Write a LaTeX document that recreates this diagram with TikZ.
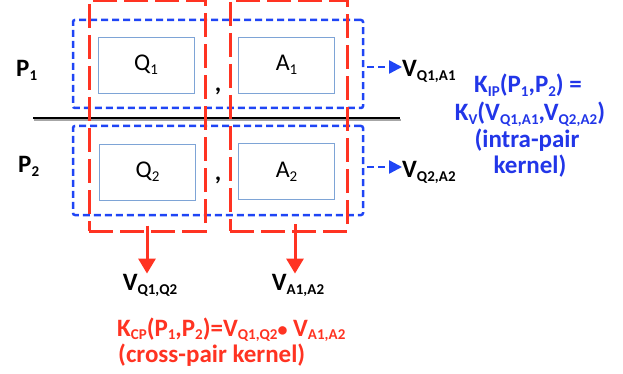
\documentclass[tikz,border=0pt]{standalone}
\usepackage{fontspec}
\setmainfont{Carlito}
\usetikzlibrary{arrows.meta}
\definecolor{redc}{HTML}{FF3322}
\definecolor{bluec}{HTML}{1F45F5}
\definecolor{bluetxt}{HTML}{2236E8}
\definecolor{cellc}{HTML}{7EA4D6}
\newcommand{\lsub}[1]{\raisebox{-4pt}{\fontsize{15}{15}\selectfont #1}}
\newcommand{\rsub}[1]{\raisebox{-3pt}{\fontsize{15}{15}\selectfont #1}}
\begin{document}
\begin{tikzpicture}[x=1pt,y=-1pt,
  redbox/.style={draw=redc,line width=3pt,dash pattern=on 24pt off 7pt,inner sep=0pt},
  bluebox/.style={draw=bluec,line width=2.5pt,dash pattern=on 7pt off 4pt,rounded corners=2pt,inner sep=0pt},
  cell/.style={draw=cellc,line width=0.9pt,inner sep=0pt,minimum width=96pt,minimum height=56pt,font=\fontsize{24}{24}\selectfont},
  lab/.style={font=\fontsize{25}{25}\selectfont\bfseries,inner sep=0pt},
  redtxt/.style={lab,text=redc},
  bluetext/.style={lab,text=bluetxt},
  bluearrow/.style={draw=bluec,line width=2.5pt,dash pattern=on 7pt off 4pt,-{Triangle[length=13pt,width=13pt]}},
  redarrow/.style={draw=redc,line width=3pt,-{Triangle[length=15pt,width=17pt]}}
]
\useasboundingbox (0,0) rectangle (623,374);
% separator line
\draw[black!35,line width=2pt] (34,120) -- (401,120);
\draw[black,line width=2.5pt] (33,118) -- (400,118);
% cells
\node[cell] (q1) at (146,65) {Q\lsub{1}};
\node[cell] (a1) at (286.5,65) {A\lsub{1}};
\node[cell] (q2) at (147.5,172) {Q\lsub{2}};
\node[cell] (a2) at (286.5,171.5) {A\lsub{2}};
% commas
\node[lab,anchor=base] (c1) at (218,92) {,};
\node[lab,anchor=base] (c2) at (218,181) {,};
% blue pair boxes
\node[bluebox,minimum width=290pt,minimum height=88pt] (p1box) at (218,64) {};
\node[bluebox,minimum width=290pt,minimum height=89pt] (p2box) at (218,170.5) {};
% red column boxes
\node[redbox,minimum width=116pt,minimum height=230pt] (qcol) at (147,116) {};
\node[redbox,minimum width=117pt,minimum height=230pt] (acol) at (288.5,116) {};
% pair labels
\node[lab,anchor=base west] (p1) at (16,77) {P\lsub{1}};
\node[lab,anchor=base west] (p2) at (18,172) {P\lsub{2}};
% pair vectors
\node[lab,anchor=base west] (vqa1) at (402,77) {V\lsub{Q1,A1}};
\node[lab,anchor=base west] (vqa2) at (402,178) {V\lsub{Q2,A2}};
\coordinate (b1) at (367,67);
\coordinate (b2) at (367,167);
\draw[bluearrow] (b1) -- (b1 -| vqa1.west);
\draw[bluearrow] (b2) -- (b2 -| vqa2.west);
% column vectors
\node[lab,anchor=base] (vqq) at (150,290) {V\lsub{Q1,Q2}};
\node[lab,anchor=base] (vaa) at (298,290) {V\lsub{A1,A2}};
\coordinate (r1) at (qcol.south);
\coordinate (r2) at (295,231);
\draw[redarrow] ([yshift=7pt]r1) -- (vqq.north -| r1) ;
\draw[redarrow] ([yshift=7pt]r2) -- (vaa.north -| r2);
% red formula
\node[redtxt,anchor=base west] (kcp) at (117,336) {K\rsub{CP}(P\rsub{1},P\rsub{2})=V\rsub{Q1,Q2}{\fontsize{20}{20}\selectfont\textbullet}\ V\rsub{A1,A2}};
\node[redtxt,anchor=base west] (kcpn) at (118,362) {(cross-pair kernel)};
% blue formula
\node[bluetext,anchor=base] (kip1) at (528,93) {K\lsub{IP}(P\lsub{1},P\lsub{2}) =};
\node[bluetext,anchor=base] (kip2) at (530,121) {K\lsub{V}(V\lsub{Q1,A1},V\lsub{Q2,A2})};
\node[bluetext,anchor=base] (kip3) at (527,148) {(intra-pair};
\node[bluetext,anchor=base] (kip4) at (530,174) {kernel)};
\end{tikzpicture}
\end{document}
